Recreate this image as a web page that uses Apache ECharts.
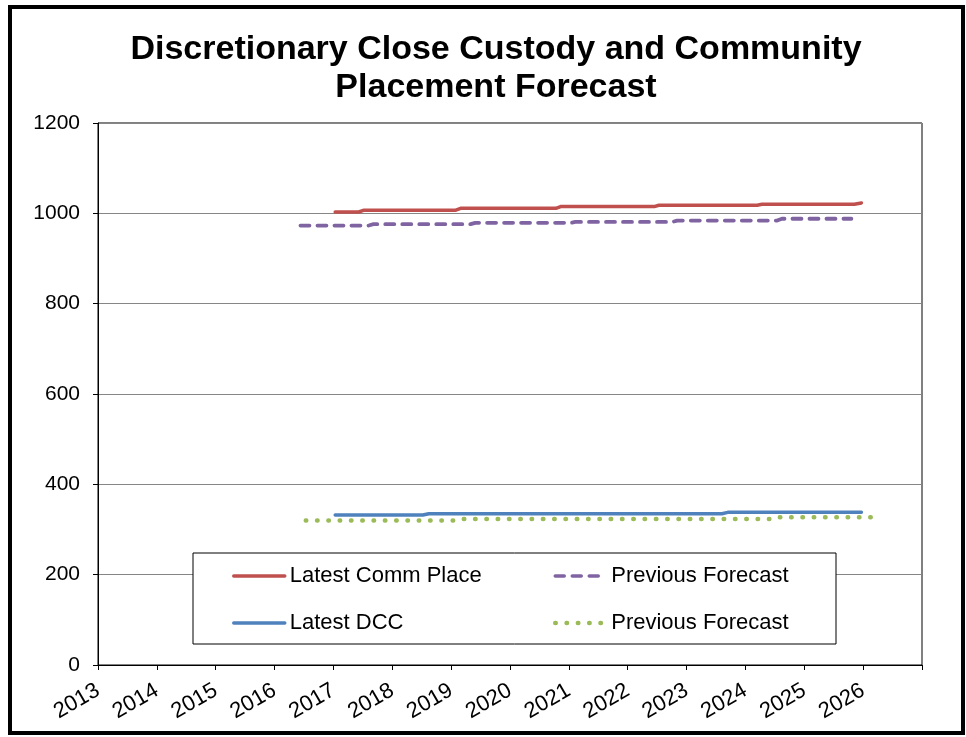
<!DOCTYPE html>
<html>
<head>
<meta charset="utf-8">
<script src="https://cdn.jsdelivr.net/npm/echarts@6/dist/echarts.min.js"></script>
<style>
  html, body { margin: 0; padding: 0; background: #fff; }
  #chart { width: 966px; height: 737px; }
</style>
</head>
<body>
<div id="chart"></div>
<script>
// Forecast step points: decimal year and population
const commPlaceX = [2017.03, 2017.43, 2017.52, 2019.08, 2019.16, 2020.78, 2020.86, 2022.45, 2022.53, 2024.2, 2024.28, 2025.85, 2025.97];
const commPlaceY = [1003, 1003, 1007, 1007, 1011, 1011, 1015, 1015, 1018, 1018, 1020, 1020, 1023];

const prevCommX = [2016.44, 2017.6, 2017.68, 2019.33, 2019.41, 2021.03, 2021.11, 2022.76, 2022.84, 2024.54, 2024.62, 2025.8];
const prevCommY = [973, 973, 976, 976, 979, 979, 981, 981, 984, 984, 988, 988];

const dccX = [2017.03, 2018.52, 2018.62, 2023.6, 2023.7, 2025.97];
const dccY = [332, 332, 335, 335, 338, 338];

const prevDccX = [2016.53, 2019.05, 2019.13, 2024.45, 2024.53, 2026.31];
const prevDccY = [320, 320, 323, 323, 327, 327];

const yearMin = 2013, yearMax = 2027;
const valueTicks = [0, 200, 400, 600, 800, 1000, 1200];

const FONT = "'Liberation Sans', Arial, sans-serif";

function pairs(xs, ys) { return xs.map((x, i) => [x, ys[i]]); }

// legend items show only the line sample, no marker
const legendCommon = {
  orient: 'vertical', top: 565, itemGap: 25,
  itemWidth: 51, itemHeight: 14, padding: 0,
  selectedMode: false,
  itemStyle: { opacity: 0, borderWidth: 0 },
  lineStyle: { width: 3.5 },
  textStyle: { fontFamily: FONT, fontSize: 22, color: '#000', lineHeight: 22 },
  formatter: n => n.replace(/ \(.*\)$/, '')
};

const chart = echarts.init(document.getElementById('chart'), null, { renderer: 'canvas' });

chart.setOption({
  animation: false,
  backgroundColor: '#ffffff',
  title: {
    text: 'Discretionary Close Custody and Community\nPlacement Forecast',
    left: 491,
    textAlign: 'center',
    top: 26,
    textStyle: { fontFamily: FONT, fontSize: 34, fontWeight: 'bold', color: '#000', lineHeight: 38 }
  },
  grid: {
    left: 98, right: 44, top: 123, bottom: 72,
    show: true, borderColor: '#000', borderWidth: 1, backgroundColor: 'transparent'
  },
  xAxis: {
    type: 'value',
    min: yearMin, max: yearMax, interval: 1,
    axisLine: { show: true, lineStyle: { color: '#000', width: 1 } },
    axisTick: { show: true, length: 5, inside: false, lineStyle: { color: '#000' } },
    splitLine: { show: false },
    axisLabel: {
      rotate: 30, margin: 24, color: '#000', fontFamily: FONT, fontSize: 22,
      showMaxLabel: true,
      formatter: v => (v >= yearMax ? '' : String(v))
    }
  },
  yAxis: {
    type: 'value',
    min: valueTicks[0], max: valueTicks[valueTicks.length - 1], interval: 200,
    axisLine: { show: true, lineStyle: { color: '#000', width: 1 } },
    axisTick: { show: true, length: 5, lineStyle: { color: '#000' } },
    splitLine: { show: true, lineStyle: { color: '#868686', width: 1 } },
    axisLabel: { margin: 18, color: '#000', fontFamily: FONT, fontSize: 21, formatter: v => String(v) }
  },
  legend: [
    Object.assign({}, legendCommon, {
      data: ['Latest Comm Place', 'Latest DCC'],
      left: 232
    }),
    Object.assign({}, legendCommon, {
      data: [
        'Previous Forecast (Comm Place)',
        { name: 'Previous Forecast (DCC)', lineStyle: { width: 4.5 } }
      ],
      left: 553
    })
  ],
  graphic: {
    elements: [
      {
        type: 'rect', z: 3,
        shape: { x: 193, y: 553, width: 643, height: 91 },
        style: { fill: '#fff', stroke: '#000', lineWidth: 1 }
      },
      {
        type: 'rect', z: 10, silent: true,
        shape: { x: 10, y: 7, width: 953, height: 726 },
        style: { fill: 'none', stroke: '#000', lineWidth: 4 }
      }
    ]
  },
  series: [
    {
      name: 'Latest Comm Place', type: 'line', symbol: 'none',
      data: pairs(commPlaceX, commPlaceY),
      lineStyle: { color: '#C0504D', width: 3.5, cap: 'round', join: 'round' },
      itemStyle: { color: '#C0504D' }
    },
    {
      name: 'Previous Forecast (Comm Place)', type: 'line', symbol: 'none',
      data: pairs(prevCommX, prevCommY),
      lineStyle: { color: '#8064A2', width: 3.8, type: [9, 8], cap: 'round', join: 'round' },
      itemStyle: { color: '#8064A2' }
    },
    {
      name: 'Latest DCC', type: 'line', symbol: 'none',
      data: pairs(dccX, dccY),
      lineStyle: { color: '#4F81BD', width: 3.5, cap: 'round', join: 'round' },
      itemStyle: { color: '#4F81BD' }
    },
    {
      name: 'Previous Forecast (DCC)', type: 'line', symbol: 'none',
      data: pairs(prevDccX, prevDccY),
      lineStyle: { color: '#9BBB59', width: 4.5, type: [0.5, 10.8], cap: 'round', join: 'round' },
      itemStyle: { color: '#9BBB59' }
    }
  ]
});
</script>
</body>
</html>
